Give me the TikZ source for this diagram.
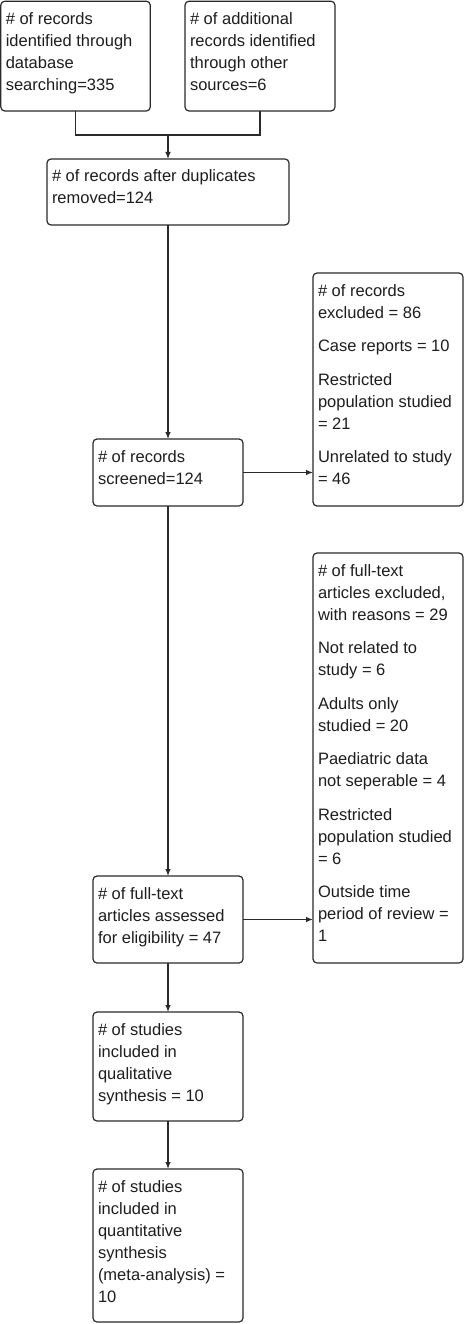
\documentclass[tikz,border=0pt]{standalone}
\usepackage{fontspec}
\setmainfont{Liberation Sans}
\usetikzlibrary{arrows.meta}
\definecolor{linec}{HTML}{2A2A2A}
\definecolor{textc}{HTML}{1E1E1E}
\newcommand{\boxtext}[3]{\parbox[c][#1pt][t]{#2pt}{\raggedright\setlength{\parskip}{11.5pt}\rule{0pt}{23pt}#3}}
\tikzset{
  flowbox/.style={draw=linec, line width=1.2pt, rounded corners=4pt, fill=white,
    anchor=north west, inner xsep=5pt, inner ysep=0pt, outer sep=0pt,
    text=textc, font=\fontsize{16.5pt}{22pt}\selectfont},
  conn/.style={draw=linec, line width=1.2pt},
  arr/.style={conn, -{Latex[length=7pt,width=5.5pt]}}
}
\begin{document}
\begin{tikzpicture}[x=1pt,y=-1pt]
\useasboundingbox[fill=white] (0,0) rectangle (467,1324);

\node[flowbox] (b1) at (0.8,1.2) {\boxtext{109.8}{139.5}{\#~of records\\identified through\\database\\searching=335}};
\node[flowbox] (b2) at (185,1.2) {\boxtext{109.8}{140}{\#~of additional\\records identified\\through other\\sources=6}};
\node[flowbox] (b3) at (47,159) {\boxtext{66}{232}{\#~of records after duplicates\\removed=124}};
\node[flowbox] (b4) at (93,439) {\boxtext{67}{140}{\#~of records\\screened=124}};
\node[flowbox] (b5) at (313,273) {\boxtext{233}{140}{\#~of records\\excluded = 86\par
Case reports = 10\par
Restricted\\population studied\\= 21\par
Unrelated to study\\= 46}};
\node[flowbox] (b6) at (93,876) {\boxtext{87}{140}{\#~of full-text\\articles assessed\\for eligibility = 47}};
\node[flowbox] (b7) at (313,553) {\boxtext{410}{140}{\#~of full-text\\articles excluded,\\with reasons = 29\par
Not related to\\study = 6\par
Adults only\\studied = 20\par
Paediatric data\\not seperable = 4\par
Restricted\\population studied\\= 6\par
Outside time\\period of review =\\1}};
\node[flowbox] (b8) at (93,1012) {\boxtext{109}{140}{\#~of studies\\included in\\qualitative\\synthesis = 10}};
\node[flowbox] (b9) at (93,1169) {\boxtext{153}{140}{\#~of studies\\included in\\quantitative\\synthesis\\(meta-analysis) =\\10}};

\coordinate (jc) at (168,135);
\draw[conn] (b1.south) |- (jc) -| (b2.south);
\draw[arr] (jc) -- (b3.north);
\draw[arr] (b3.south) -- (b4.north);
\draw[arr] (b4.east) -- (b4.east -| b5.west);
\draw[arr] (b4.south) -- (b6.north);
\draw[arr] (b6.east) -- (b6.east -| b7.west);
\draw[arr] (b6.south) -- (b8.north);
\draw[arr] (b8.south) -- (b9.north);
\end{tikzpicture}
\end{document}
